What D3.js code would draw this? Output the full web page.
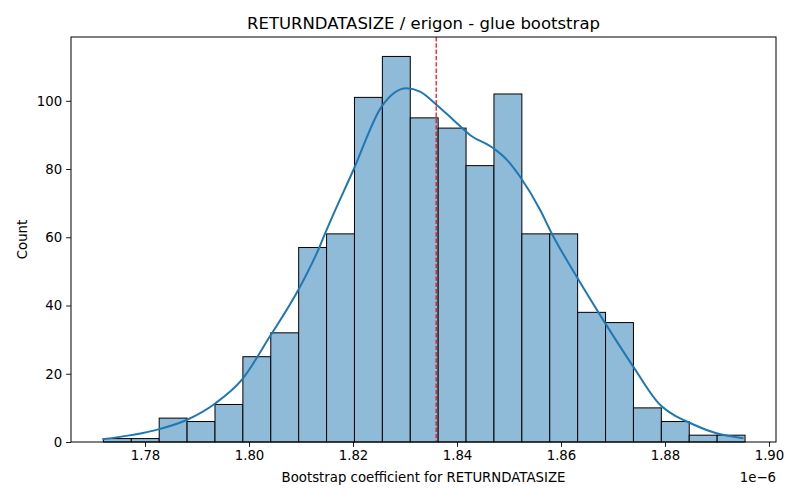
<!DOCTYPE html>
<html>
<head>
<meta charset="utf-8">
<title>RETURNDATASIZE bootstrap</title>
<script src="https://cdn.jsdelivr.net/npm/d3@7"></script>
<style>
  body { margin: 0; background: #fff; }
  text { font-family: "DejaVu Sans", sans-serif; fill: #000; }
</style>
</head>
<body>
<div id="chart"></div>
<script>
// values in units of 1e-6
var binStart = 1.7720;
var binWidth = 0.005365;
var counts = [1, 1, 7, 6, 11, 25, 32, 57, 61, 101, 113, 95, 92, 81, 102, 61, 61, 38, 35, 10, 6, 2, 2];

// kde curve
var kdeX = [1.7718, 1.7826, 1.7880, 1.7935, 1.7986, 1.8040, 1.8095, 1.8136, 1.8146, 1.8201, 1.8255,
            1.8303, 1.8329, 1.8361, 1.8393, 1.8425, 1.8470, 1.8496, 1.8521, 1.8560, 1.8582, 1.8630,
            1.8681, 1.8739, 1.8790, 1.8816, 1.8842, 1.8899, 1.8951];
var kdeY = [0.8, 3.7, 6.45, 11.3, 18.2, 30.9, 44.6, 57.3, 61, 79.8, 98.3,
            103.7, 102.7, 98.8, 94.4, 90, 86.1, 82.7, 77.8, 68, 61.2, 48.5,
            35.8, 22.1, 11.0, 8.0, 6.0, 2.55, 1.1];

var meanLine = 1.8360;
var xTicks = [1.78, 1.80, 1.82, 1.84, 1.86, 1.88, 1.90];
var yTicks = [0, 20, 40, 60, 80, 100];

var w = 800, h = 500;
var margin = { top: 37, right: 24, bottom: 58, left: 71 };

var svg = d3.select("#chart").append("svg")
    .attr("width", w)
    .attr("height", h);

var x = d3.scaleLinear().domain([1.76577, 1.90135]).range([margin.left, w - margin.right]);
var y = d3.scaleLinear().domain([0, 118.7]).range([h - margin.bottom, margin.top]);

var bins = counts.map(function (c, i) {
    return { x0: binStart + i * binWidth, x1: binStart + (i + 1) * binWidth, n: c };
});

svg.append("g").selectAll("rect")
    .data(bins)
    .enter()
    .append("rect")
    .attr("x", function (d) { return x(d.x0); })
    .attr("y", function (d) { return y(d.n); })
    .attr("width", function (d) { return x(d.x1) - x(d.x0); })
    .attr("height", function (d) { return y(0) - y(d.n); })
    .attr("fill", "#8fbbd9")
    .attr("stroke", "#000")
    .attr("stroke-width", 1);

var line = d3.line()
    .x(function (d) { return x(d[0]); })
    .y(function (d) { return y(d[1]); })
    .curve(d3.curveMonotoneX);

svg.append("path")
    .datum(d3.zip(kdeX, kdeY))
    .attr("d", line)
    .attr("fill", "none")
    .attr("stroke", "#1f77b4")
    .attr("stroke-width", 2);

svg.append("line")
    .attr("x1", x(meanLine)).attr("x2", x(meanLine))
    .attr("y1", margin.top).attr("y2", h - margin.bottom)
    .attr("stroke", "red")
    .attr("stroke-width", 1.2)
    .attr("stroke-dasharray", "4.4,1.9");

// axes
var xAxis = svg.append("g")
    .attr("transform", "translate(0," + (h - margin.bottom) + ")")
    .call(d3.axisBottom(x).tickValues(xTicks).tickFormat(d3.format(".2f")).tickSizeOuter(0).tickSize(4.9).tickPadding(4));
var yAxis = svg.append("g")
    .attr("transform", "translate(" + margin.left + ",0)")
    .call(d3.axisLeft(y).tickValues(yTicks).tickFormat(d3.format("d")).tickSizeOuter(0).tickSize(4.9).tickPadding(4));

[xAxis, yAxis].forEach(function (g) {
    g.select(".domain").remove();
    g.selectAll("text").style("font-size", "13.3px").style("font-family", "DejaVu Sans");
    g.selectAll("line").attr("stroke", "#000").attr("stroke-width", 0.9);
});

// frame
svg.append("rect")
    .attr("x", margin.left).attr("y", margin.top)
    .attr("width", w - margin.left - margin.right)
    .attr("height", h - margin.top - margin.bottom)
    .attr("fill", "none")
    .attr("stroke", "#000")
    .attr("stroke-width", 1);

svg.append("text")
    .attr("x", (margin.left + w - margin.right) / 2)
    .attr("y", 29)
    .attr("text-anchor", "middle")
    .style("font-size", "16.5px")
    .text("RETURNDATASIZE / erigon - glue bootstrap");

svg.append("text")
    .attr("x", (margin.left + w - margin.right) / 2)
    .attr("y", 482)
    .attr("text-anchor", "middle")
    .style("font-size", "13.3px")
    .text("Bootstrap coefficient for RETURNDATASIZE");

svg.append("text")
    .attr("x", w - margin.right)
    .attr("y", 482)
    .attr("text-anchor", "end")
    .style("font-size", "13.3px")
    .text("1e\u22126");

svg.append("text")
    .attr("transform", "translate(27," + ((margin.top + h - margin.bottom) / 2) + ") rotate(-90)")
    .attr("text-anchor", "middle")
    .style("font-size", "13.3px")
    .text("Count");
</script>
</body>
</html>
